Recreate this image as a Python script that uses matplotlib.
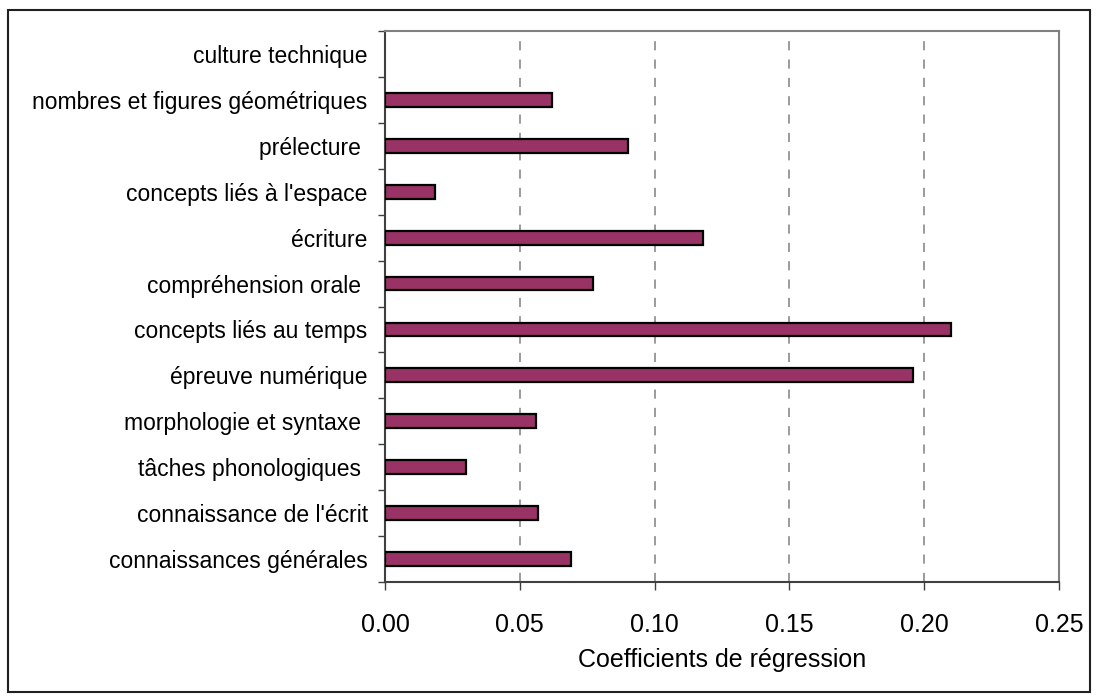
import matplotlib
matplotlib.use("Agg")
import matplotlib.pyplot as plt
from matplotlib.patches import Rectangle

categories = [
    "culture technique",
    "nombres et figures géométriques",
    "prélecture ",
    "concepts liés à l'espace",
    "écriture",
    "compréhension orale ",
    "concepts liés au temps",
    "épreuve numérique",
    "morphologie et syntaxe ",
    "tâches phonologiques ",
    "connaissance de l'écrit",
    "connaissances générales",
]
values = [0.0, 0.062, 0.090, 0.0185, 0.118, 0.077, 0.210, 0.196, 0.056, 0.030, 0.0567, 0.069]
xticks = [0.00, 0.05, 0.10, 0.15, 0.20, 0.25]
xlabel = "Coefficients de régression"

plt.rcParams['font.family'] = ['Liberation Sans', 'DejaVu Sans']

fig = plt.figure(figsize=(10.98, 7.0), dpi=100)
ax = fig.add_axes([385/1098, 1-582/700, (1059-385)/1098, (582-31)/700])

n = len(categories)
ypos = list(range(n - 1, -1, -1))
lws = [1.6 if v > 0 else 0 for v in values]
ax.barh(ypos, values, height=0.3, color="#993366", edgecolor="black", linewidth=lws, zorder=3)

ax.set_ylim(-0.5, n - 0.5)
ax.set_xlim(0, 0.25)
ax.set_yticks([i - 0.5 for i in range(n + 1)])
ax.set_yticklabels([])
ax.set_yticks(ypos, minor=True)
ax.set_yticklabels(categories, minor=True, fontsize=16.5)
ax.tick_params(axis='y', which='minor', length=0, pad=12.5)
ax.tick_params(axis='y', which='major', length=5, width=1, direction='out', color='#404040')

ax.set_xticks(xticks)
ax.set_xticklabels([f"{t:.2f}" for t in xticks], fontsize=18)
ax.tick_params(axis='x', length=6, width=1, direction='out', color='#404040', pad=16)
ax.set_xlabel(xlabel, fontsize=18, labelpad=8)

for t in xticks[1:-1]:
    ax.axvline(t, color='#808080', linestyle=(0, (6, 6)), linewidth=1.1, zorder=1)

for side in ['left', 'bottom']:
    ax.spines[side].set_color('#404040')
    ax.spines[side].set_linewidth(1.5)
for side in ['top', 'right']:
    ax.spines[side].set_color('#808080')
    ax.spines[side].set_linewidth(1.5)

fig.patches.append(Rectangle((8/1098, 8/700), 1 - 16/1098, 1 - 18/700, transform=fig.transFigure,
                             fill=False, edgecolor='#202020', linewidth=1.5))

fig.savefig("out.png", dpi=100)
